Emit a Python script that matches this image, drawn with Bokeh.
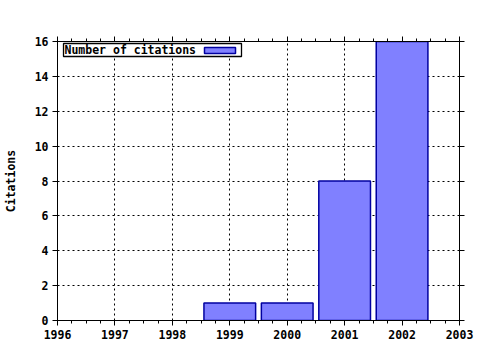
from bokeh.plotting import figure
from bokeh.models import (LinearAxis, FixedTicker, Range1d, Label, BoxAnnotation,
                          ColumnDataSource)
from bokeh.embed import file_html
from bokeh.resources import INLINE

years = [1996, 1997, 1998, 1999, 2000, 2001, 2002]
citations = [0, 0, 0, 1, 1, 8, 16]
x_ticks = [1996, 1997, 1998, 1999, 2000, 2001, 2002, 2003]
y_ticks = [0, 2, 4, 6, 8, 10, 12, 14, 16]
series_name = "Number of citations"
y_title = "Citations"

FONT = "DejaVu Sans Mono"
FS = "11.5px"
FW, FH = 402, 279
X0, X1 = x_ticks[0], x_ticks[-1]
Y0, Y1 = y_ticks[0], y_ticks[-1]

p = figure(width=480, height=350, output_backend="svg", toolbar_location=None,
           x_range=Range1d(X0, X1), y_range=Range1d(Y0, Y1),
           min_border_left=57, min_border_right=21, min_border_top=41, min_border_bottom=30)
p.frame_width = FW
p.frame_height = FH
p.background_fill_color = "white"
p.border_fill_color = "white"
p.outline_line_color = "black"
p.outline_line_width = 1

src = ColumnDataSource(dict(x=[y for y, c in zip(years, citations) if c > 0],
                            top=[c for c in citations if c > 0]))
p.vbar(x="x", top="top", width=0.9, bottom=0, source=src,
       fill_color="#8080ff", line_color="#0000a0", line_width=1.5)

minor_x = [X0 + i * 0.25 for i in range((X1 - X0) * 4 + 1)]
xt = FixedTicker(ticks=x_ticks, minor_ticks=minor_x)
yt = FixedTicker(ticks=y_ticks, minor_ticks=[])

def style(ax, labels=True):
    ax.axis_line_color = "black"
    ax.major_tick_line_color = "black"
    ax.minor_tick_line_color = "black"
    ax.major_tick_out = 5
    ax.major_tick_in = 0
    ax.minor_tick_out = 3
    ax.minor_tick_in = 0
    ax.major_label_text_font = FONT
    ax.major_label_text_font_style = "bold"
    ax.major_label_text_font_size = FS
    ax.major_label_text_color = "black"
    ax.major_label_standoff = 4
    if not labels:
        ax.major_label_text_font_size = "0px"
        ax.major_label_text_alpha = 0

p.xaxis.ticker = xt
p.yaxis.ticker = yt
style(p.xaxis[0])
style(p.yaxis[0])
p.yaxis.axis_label = y_title
p.yaxis.axis_label_text_font = FONT
p.yaxis.axis_label_text_font_style = "bold"
p.yaxis.axis_label_text_font_size = FS
p.yaxis.axis_label_text_color = "black"
p.yaxis.axis_label_standoff = 14

top_ax = LinearAxis(ticker=FixedTicker(ticks=x_ticks, minor_ticks=minor_x))
style(top_ax, labels=False)
p.add_layout(top_ax, "above")
right_ax = LinearAxis(ticker=FixedTicker(ticks=y_ticks, minor_ticks=[]))
style(right_ax, labels=False)
p.add_layout(right_ax, "right")

p.xgrid.ticker = FixedTicker(ticks=x_ticks[1:-1])
p.ygrid.ticker = FixedTicker(ticks=y_ticks[1:-1])
for g in (p.xgrid[0], p.ygrid[0]):
    g.grid_line_color = "black"
    g.grid_line_dash = "2 3"
    g.grid_line_width = 1

# legend (gnuplot style: label then swatch, boxed) placed by pixel offsets from frame's top-left
sx = (X1 - X0) / FW
sy = (Y1 - Y0) / FH
def px(dx):
    return X0 + dx * sx
def py(dy):
    return Y1 - dy * sy

p.add_layout(BoxAnnotation(left=px(6), right=px(184), top=py(2), bottom=py(15),
                           fill_color="white", fill_alpha=1,
                           line_color="black", line_alpha=1, line_width=1.3))
p.add_layout(Label(x=px(7), y=py(8.8), text=series_name,
                   text_font=FONT, text_font_style="bold", text_font_size=FS,
                   text_baseline="middle", text_color="black"))
p.add_layout(BoxAnnotation(left=px(147), right=px(178), top=py(6), bottom=py(12),
                           fill_color="#8080ff", fill_alpha=1,
                           line_color="#0000a0", line_alpha=1, line_width=1.5))

open("out.html", "w").write(file_html(p, INLINE))
